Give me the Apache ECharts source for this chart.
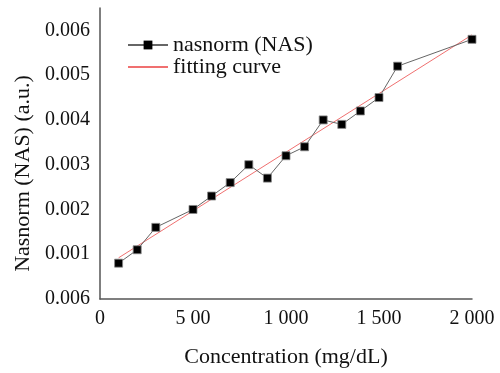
<!DOCTYPE html>
<html>
<head>
<meta charset="utf-8">
<script src="https://cdn.jsdelivr.net/npm/echarts@6/dist/echarts.min.js"></script>
<style>html,body{margin:0;padding:0;background:#fff}#c{width:500px;height:373px}</style>
</head>
<body>
<div id="c"></div>
<script>
var concentrations = [100, 200, 300, 500, 600, 700, 800, 900, 1000, 1100, 1200, 1300, 1400, 1500, 1600, 2000];
var nasValues = [0.0008, 0.0011, 0.0016, 0.0020, 0.0023, 0.0026, 0.0030, 0.0027, 0.0032, 0.0034, 0.0040, 0.0039, 0.0042, 0.0045, 0.0052, 0.0058];
var fitX = [100, 2000];
var fitY = [0.00092, 0.0059];
var xTickValues = [0, 500, 1000, 1500, 2000];
var xTickLabels = ['0', '5 00', '1 000', '1 500', '2 000'];
var yTickValues = [0, 0.001, 0.002, 0.003, 0.004, 0.005, 0.006];
var yTickLabels = ['0.006', '0.001', '0.002', '0.003', '0.004', '0.005', '0.006'];

var font = 'Liberation Serif';
function labelFor(vals, labels, v) {
  for (var i = 0; i < vals.length; i++) {
    if (Math.abs(vals[i] - v) < 1e-9) return labels[i];
  }
  return '';
}
var chart = echarts.init(document.getElementById('c'), null, {renderer: 'canvas'});
chart.setOption({
  animation: false,
  backgroundColor: '#fff',
  grid: {left: 100, right: 28, top: 8, bottom: 66, containLabel: false},
  legend: {
    left: 122, top: 29, orient: 'vertical', itemGap: 0,
    itemWidth: 40, itemHeight: 11,
    textStyle: {fontFamily: font, fontSize: 22, color: '#111', lineHeight: 22},
    data: [
      {name: 'nasnorm (NAS)', itemStyle: {color: '#000', borderColor: '#000', borderWidth: 0}},
      {name: 'fitting curve', itemStyle: {opacity: 0}}
    ]
  },
  xAxis: {
    type: 'value', min: 0, max: 2000, interval: 500,
    name: 'Concentration (mg/dL)', nameLocation: 'middle', nameGap: 47,
    nameTextStyle: {fontFamily: font, fontSize: 22, color: '#111'},
    axisLine: {show: true, lineStyle: {color: '#555', width: 1.5}},
    axisTick: {show: false},
    splitLine: {show: false},
    axisLabel: {
      fontFamily: font, fontSize: 20, color: '#111', margin: 10,
      formatter: function (v) { return labelFor(xTickValues, xTickLabels, v); }
    }
  },
  yAxis: {
    type: 'value', min: 0, max: 0.0065, interval: 0.001,
    name: 'Nasnorm (NAS) (a.u.)', nameLocation: 'middle', nameGap: 62,
    nameTextStyle: {fontFamily: font, fontSize: 22, color: '#111', padding: [0, 40, 0, 0]},
    axisLine: {show: true, lineStyle: {color: '#555', width: 1.5}},
    axisTick: {show: false},
    splitLine: {show: false},
    axisLabel: {
      fontFamily: font, fontSize: 20, color: '#111', margin: 10, showMaxLabel: false,
      formatter: function (v) { return labelFor(yTickValues, yTickLabels, v); }
    }
  },
  series: [
    {
      name: 'fitting curve', type: 'line', z: 2,
      data: fitX.map(function (x, i) { return [x, fitY[i]]; }),
      showSymbol: false, symbol: 'none',
      lineStyle: {color: '#f07070', width: 1},
      itemStyle: {color: '#f07070'}
    },
    {
      name: 'nasnorm (NAS)', type: 'line', z: 3,
      data: concentrations.map(function (x, i) { return [x, nasValues[i]]; }),
      symbol: 'rect', symbolSize: 8, showSymbol: true,
      lineStyle: {color: '#666', width: 1},
      itemStyle: {color: '#000', borderColor: '#888', borderWidth: 0.8}
    }
  ]
});
</script>
</body>
</html>
